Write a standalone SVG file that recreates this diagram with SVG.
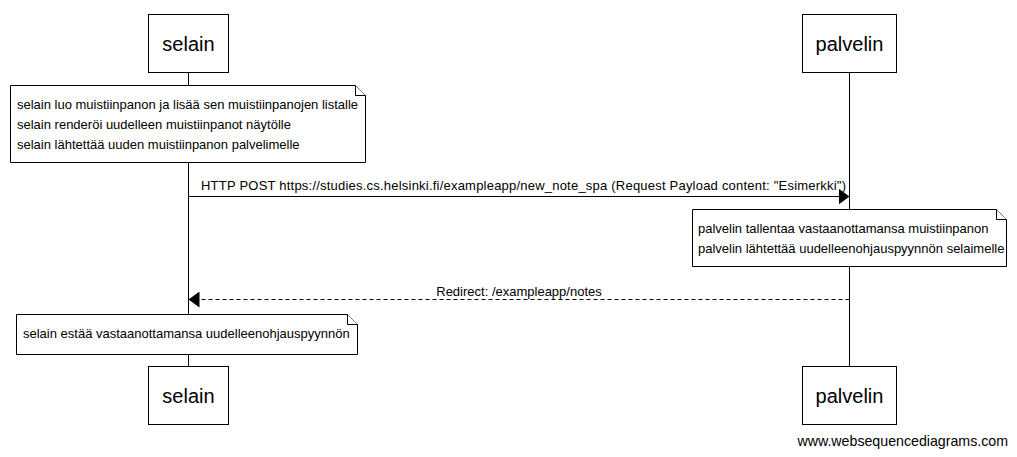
<svg xmlns="http://www.w3.org/2000/svg" width="1017" height="457" viewBox="0 0 1017 457">
<style>
.box{fill:#fff;stroke:#000;stroke-width:1}
.life{stroke:#000;stroke-width:1}
.pt{font-family:"Liberation Sans",Arial,sans-serif;font-size:20px;fill:#000;text-anchor:middle}
.nt{font-family:"Liberation Sans",Arial,sans-serif;font-size:13px;fill:#000}
.lbl{font-family:"Liberation Sans",Arial,sans-serif;font-size:13px;fill:#000;text-anchor:middle}
.note{fill:#fff;stroke:#000;stroke-width:1}
.msg{stroke:#000;stroke-width:1;fill:none}
</style>
<defs>
<marker id="ah" markerWidth="12" markerHeight="16" refX="11" refY="8" orient="auto" markerUnits="userSpaceOnUse">
<path d="M0,0 L11,8 L0,16 Z" fill="#000"/>
</marker>
</defs>
<rect width="1017" height="457" fill="#fff"/>
<g id="lifelines">
<line class="life" x1="188.5" y1="72" x2="188.5" y2="366"/>
<line class="life" x1="849.5" y1="72" x2="849.5" y2="366"/>
</g>
<g id="selain-top"><rect class="box" x="148.5" y="14.5" width="80" height="58"/><text class="pt" x="188.5" y="51">selain</text></g>
<g id="palvelin-top"><rect class="box" x="802.5" y="14.5" width="94" height="58"/><text class="pt" x="849.5" y="51">palvelin</text></g>
<g id="selain-bottom"><rect class="box" x="148.5" y="366.5" width="80" height="58"/><text class="pt" x="188.5" y="403">selain</text></g>
<g id="palvelin-bottom"><rect class="box" x="802.5" y="366.5" width="94" height="58"/><text class="pt" x="849.5" y="403">palvelin</text></g>
<g id="note1">
<path class="note" d="M10.5,85.5 H355.5 L365.5,95.5 V162.5 H10.5 Z"/>
<path class="note" d="M355.5,85.5 V95.5 H365.5"/>
<text class="nt" x="17" y="109">selain luo muistiinpanon ja lisää sen muistiinpanojen listalle</text>
<text class="nt" x="17" y="129">selain renderöi uudelleen muistiinpanot näytölle</text>
<text class="nt" x="17" y="149">selain lähtettää uuden muistiinpanon palvelimelle</text>
</g>
<g id="note2">
<path class="note" d="M692.5,209.5 H996.5 L1006.5,219.5 V266.5 H692.5 Z"/>
<path class="note" d="M996.5,209.5 V219.5 H1006.5"/>
<text class="nt" x="698" y="233">palvelin tallentaa vastaanottamansa muistiinpanon</text>
<text class="nt" x="698" y="253">palvelin lähtettää uudelleenohjauspyynnön selaimelle</text>
</g>
<g id="note3">
<path class="note" d="M16.5,314.5 H347.5 L357.5,324.5 V354.5 H16.5 Z"/>
<path class="note" d="M347.5,314.5 V324.5 H357.5"/>
<text class="nt" x="23" y="338">selain estää vastaanottamansa uudelleenohjauspyynnön</text>
</g>
<g id="connectors">
<line class="msg" x1="188.5" y1="196.5" x2="849.5" y2="196.5" marker-end="url(#ah)"/>
<text class="lbl" x="523.5" y="190" textLength="645" lengthAdjust="spacing">HTTP POST https://studies.cs.helsinki.fi/exampleapp/new_note_spa (Request Payload content: "Esimerkki")</text>
<line class="msg" x1="849.5" y1="299.5" x2="188.5" y2="299.5" stroke-dasharray="4,3" marker-end="url(#ah)"/>
<text class="lbl" x="519" y="296">Redirect: /exampleapp/notes</text>
</g>
<text class="nt" x="1008" y="446" text-anchor="end" style="font-size:14.2px">www.websequencediagrams.com</text>
</svg>
